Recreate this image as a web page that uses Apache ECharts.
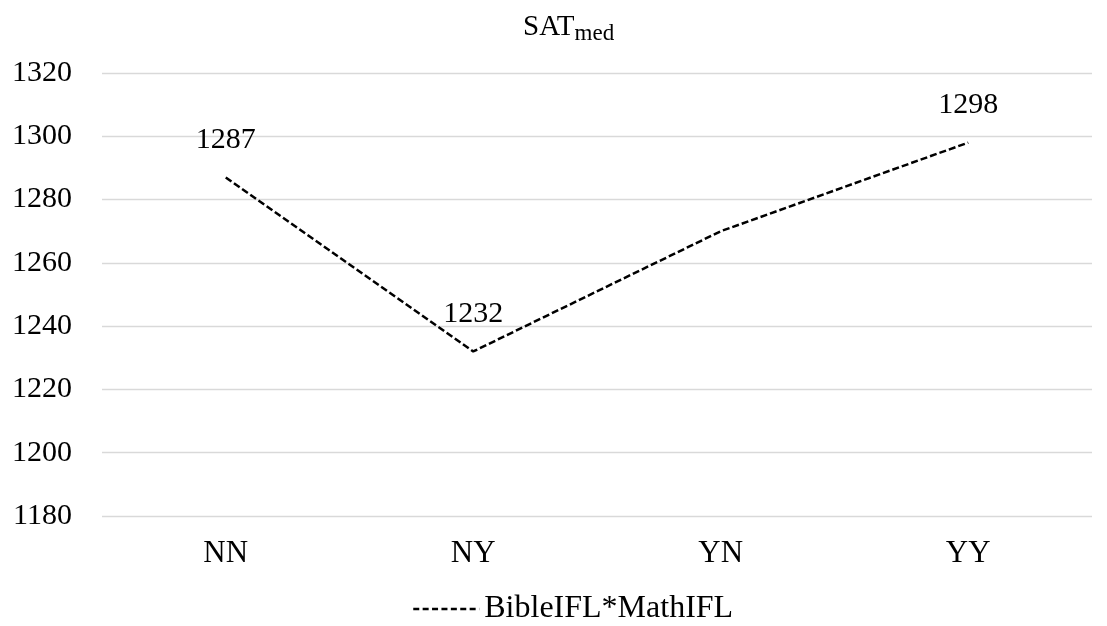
<!DOCTYPE html>
<html><head><meta charset="utf-8">
<script src="https://cdn.jsdelivr.net/npm/echarts@6/dist/echarts.min.js"></script>
<style>html,body{margin:0;padding:0;background:#fff}#c{width:1107px;height:626px}</style>
</head><body><div id="c"></div>
<script>
const categories = ['NN', 'NY', 'YN', 'YY'];
const values = [1287, 1232, 1270, 1298];
const showLabel = [true, true, false, true];
const seriesName = 'BibleIFL*MathIFL';
const yMin = 1180, yMax = 1320, yStep = 20;

const font = 'Liberation Serif';
const chart = echarts.init(document.getElementById('c'));
chart.setOption({
  animation: false,
  title: {
    text: '{a|SAT}{b|med}',
    left: 518, top: 6,
    textStyle: {
      fontWeight: 'normal',
      rich: {
        a: { fontFamily: font, fontSize: 29, color: '#000', fontWeight: 'normal', lineHeight: 32 },
        b: { fontFamily: font, fontSize: 23, color: '#000', fontWeight: 'normal', padding: [13, 0, 0, 0], lineHeight: 32 }
      }
    }
  },
  legend: {
    bottom: -4, left: 407,
    itemWidth: 66, itemHeight: 14, itemGap: 8,
    textStyle: { fontFamily: font, fontSize: 32, color: '#000' },
    itemStyle: { color: 'rgba(0,0,0,0)', borderWidth: 0 },
    lineStyle: { color: '#000', width: 2.5, type: [6, 3.4] },
    data: [seriesName]
  },
  grid: { left: 102, right: 15, top: 73, bottom: 110 },
  xAxis: {
    type: 'category', data: categories, boundaryGap: true,
    axisLine: { show: false }, axisTick: { show: false },
    axisLabel: { fontFamily: font, fontSize: 31, color: '#000', margin: 22 }
  },
  yAxis: {
    type: 'value', min: yMin, max: yMax, interval: yStep,
    axisLine: { show: false }, axisTick: { show: false },
    axisLabel: { fontFamily: font, fontSize: 30, color: '#000', margin: 30, formatter: v => String(v) },
    splitLine: { lineStyle: { color: '#d9d9d9', width: 1.3 } }
  },
  series: [{
    name: seriesName, type: 'line',
    data: values.map((v, i) => ({ value: v, label: { show: showLabel[i] } })),
    symbol: 'circle', symbolSize: 1, showSymbol: true,
    lineStyle: { color: '#000', width: 2.5, type: [7, 3] },
    itemStyle: { color: 'rgba(0,0,0,0)', borderWidth: 0 },
    label: { show: true, position: 'top', distance: 22, fontFamily: font, fontSize: 30, color: '#000', formatter: p => String(p.value) }
  }]
});
</script></body></html>
